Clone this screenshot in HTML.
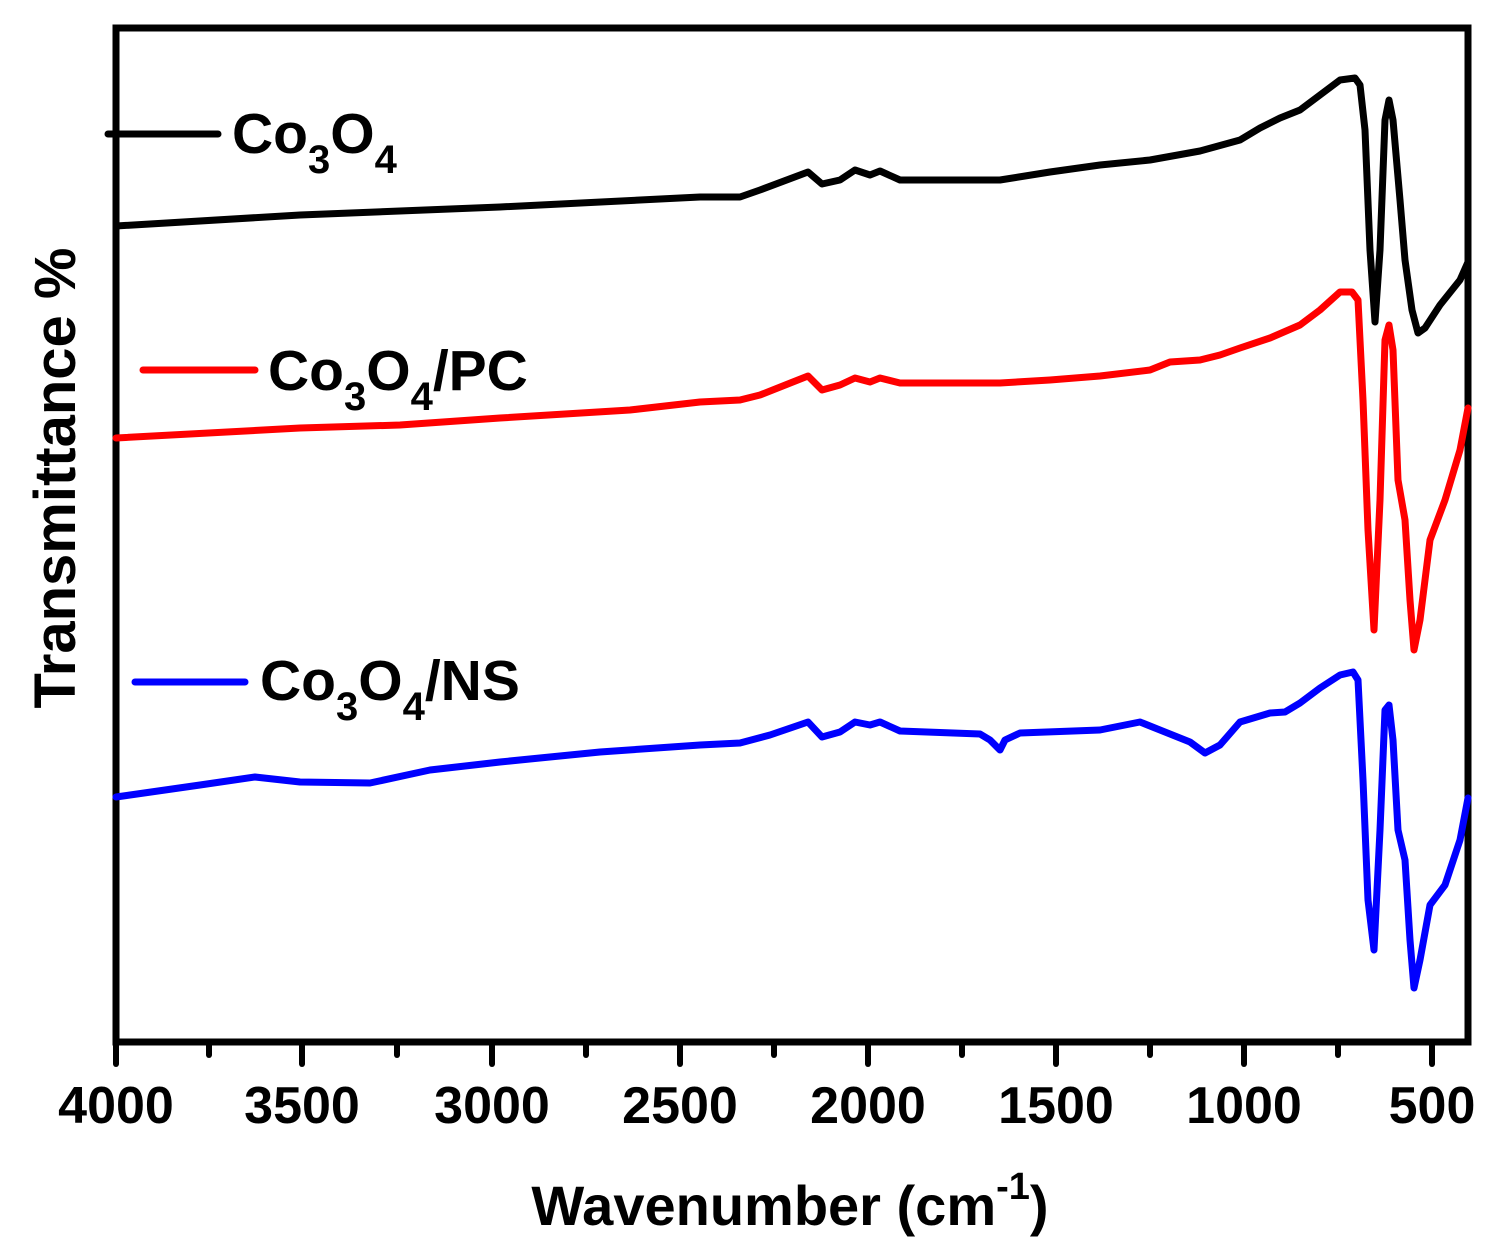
<!DOCTYPE html>
<html><head><style>body{margin:0;background:#fff}</style></head><body>
<svg width="1511" height="1255" viewBox="0 0 1511 1255" xmlns="http://www.w3.org/2000/svg" font-family="Liberation Sans, Arial, sans-serif" font-weight="bold">
<rect x="116" y="28" width="1352" height="1014" fill="none" stroke="#000" stroke-width="7"/>
<g stroke="#000" stroke-width="6" stroke-linecap="round">
<line x1="116" y1="1042" x2="116" y2="1064"/><line x1="302" y1="1042" x2="302" y2="1064"/><line x1="492" y1="1042" x2="492" y2="1064"/><line x1="680" y1="1042" x2="680" y2="1064"/><line x1="868" y1="1042" x2="868" y2="1064"/><line x1="1056" y1="1042" x2="1056" y2="1064"/><line x1="1244" y1="1042" x2="1244" y2="1064"/><line x1="1432" y1="1042" x2="1432" y2="1064"/>
<line x1="209" y1="1042" x2="209" y2="1055"/><line x1="397" y1="1042" x2="397" y2="1055"/><line x1="586" y1="1042" x2="586" y2="1055"/><line x1="774" y1="1042" x2="774" y2="1055"/><line x1="962" y1="1042" x2="962" y2="1055"/><line x1="1150" y1="1042" x2="1150" y2="1055"/><line x1="1338" y1="1042" x2="1338" y2="1055"/>
</g>
<g font-size="52" text-anchor="middle">
<text x="116" y="1123">4000</text><text x="302" y="1123">3500</text><text x="492" y="1123">3000</text><text x="680" y="1123">2500</text><text x="868" y="1123">2000</text><text x="1056" y="1123">1500</text><text x="1244" y="1123">1000</text><text x="1432" y="1123">500</text>
</g>
<text x="790" y="1225" font-size="56" text-anchor="middle">Wavenumber (cm<tspan dy="-26" font-size="38">-1</tspan><tspan dy="26">)</tspan></text>
<text transform="translate(75,478) rotate(-90)" font-size="58" text-anchor="middle">Transmittance %</text>
<g fill="none" stroke-width="7" stroke-linejoin="round" stroke-linecap="round">
<polyline stroke="#000" points="116,226 300,215 500,207 700,197 740,197 760,190 808,172 822,184 840,180 855,170 870,175 880,171 900,180 1000,180 1050,172 1100,165 1150,160 1200,151 1240,140 1260,128 1280,118 1300,110 1320,95 1340,80 1355,78 1360,85 1365,130 1370,250 1375,322 1380,250 1385,120 1389,100 1393,120 1400,200 1405,260 1412,310 1418,333 1425,328 1440,305 1460,280 1468,262"/>
<polyline stroke="#f00" points="116,438 300,428 400,425 500,418 630,410 700,402 740,400 760,395 808,376 822,390 840,385 855,378 870,382 880,378 900,383 1000,383 1050,380 1100,376 1150,370 1170,362 1200,360 1220,355 1240,348 1270,338 1300,325 1320,310 1340,292 1352,292 1358,300 1363,400 1368,530 1374,630 1380,500 1385,340 1389,325 1393,350 1398,480 1405,520 1410,600 1414,650 1420,620 1430,540 1445,500 1460,450 1468,408"/>
<polyline stroke="#00f" points="116,797 200,785 255,777 300,782 370,783 430,770 500,762 600,752 700,745 740,743 770,735 808,722 822,737 840,732 855,722 870,725 880,722 900,731 980,734 990,740 1000,750 1005,740 1020,733 1100,730 1140,722 1160,730 1190,742 1205,753 1220,745 1240,722 1270,713 1285,712 1300,703 1320,688 1340,675 1353,672 1358,680 1363,780 1368,900 1374,950 1380,830 1385,710 1389,705 1393,740 1398,830 1405,860 1410,940 1414,988 1420,960 1430,905 1445,885 1460,840 1468,798"/>
<line stroke="#000" x1="108" y1="134" x2="218" y2="134"/>
<line stroke="#f00" x1="143" y1="370" x2="255" y2="370"/>
<line stroke="#00f" x1="135" y1="682" x2="245" y2="682"/>
</g>
<g font-size="57">
<text x="232" y="153">Co<tspan dy="20" font-size="40">3</tspan><tspan dy="-20">O</tspan><tspan dy="20" font-size="40">4</tspan></text>
<text x="268" y="390">Co<tspan dy="20" font-size="40">3</tspan><tspan dy="-20">O</tspan><tspan dy="20" font-size="40">4</tspan><tspan dy="-20">/PC</tspan></text>
<text x="260" y="700">Co<tspan dy="20" font-size="40">3</tspan><tspan dy="-20">O</tspan><tspan dy="20" font-size="40">4</tspan><tspan dy="-20">/NS</tspan></text>
</g>
</svg>
</body></html>
